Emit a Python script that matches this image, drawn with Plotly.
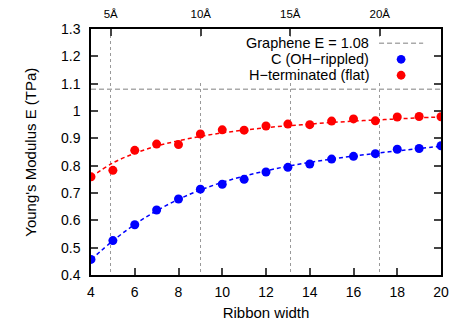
import plotly.graph_objects as go

# ribbon widths and measured Young's modulus (TPa)
ribbon_width = [4, 5, 6, 7, 8, 9, 10, 11, 12, 13, 14, 15, 16, 17, 18, 19, 20]
e_oh_rippled = [0.457, 0.526, 0.584, 0.638, 0.678, 0.714, 0.732, 0.750, 0.777,
                0.794, 0.806, 0.824, 0.834, 0.844, 0.860, 0.863, 0.873]
e_h_flat = [0.759, 0.783, 0.856, 0.879, 0.877, 0.916, 0.931, 0.930, 0.945,
            0.952, 0.950, 0.963, 0.971, 0.964, 0.978, 0.980, 0.979]

# fitted curves
fit_oh_rippled = [0.456, 0.525, 0.585, 0.635, 0.677, 0.711, 0.739, 0.762, 0.781,
                  0.798, 0.812, 0.824, 0.835, 0.845, 0.854, 0.863, 0.871]
fit_h_flat = [0.758, 0.810, 0.845, 0.872, 0.891, 0.907, 0.920, 0.930, 0.939,
              0.946, 0.952, 0.958, 0.963, 0.967, 0.971, 0.975, 0.978]

graphene_E = 1.08

# top axis: width in Angstrom
angstrom_pos = [4.9, 9.02, 13.11, 17.2]
angstrom_labels = ["5Å", "10Å", "15Å", "20Å"]

BLUE = "#0000ff"
RED = "#ff0000"
FONT = "Liberation Sans, Arial, sans-serif"

fig = go.Figure()

fig.add_trace(go.Scatter(x=ribbon_width, y=fit_oh_rippled, mode="lines", line_shape="spline",
                         line=dict(color=BLUE, width=1.5, dash="4px,3px"), showlegend=False))
fig.add_trace(go.Scatter(x=ribbon_width, y=fit_h_flat, mode="lines", line_shape="spline",
                         line=dict(color=RED, width=1.5, dash="4px,3px"), showlegend=False))
fig.add_trace(go.Scatter(x=ribbon_width, y=e_oh_rippled, mode="markers",
                         marker=dict(color=BLUE, size=9, line_width=0), showlegend=False))
fig.add_trace(go.Scatter(x=ribbon_width, y=e_h_flat, mode="markers",
                         marker=dict(color=RED, size=9, line_width=0), showlegend=False))
# invisible trace so the top axis exists
fig.add_trace(go.Scatter(x=[ribbon_width[0]], y=[graphene_E], xaxis="x2", mode="markers",
                         marker=dict(opacity=0), showlegend=False, hoverinfo="skip"))

fig.add_hline(y=graphene_E, line=dict(color="#aaaaaa", width=1.5, dash="5px,3px"))

# white key box hiding the grid behind the legend
fig.add_shape(type="rect", xref="x", yref="y", x0=6.7, x1=19.6, y0=1.105, y1=1.272,
              fillcolor="white", line_width=0, layer="above")

# key: right-aligned text with samples on the right (gnuplot style)
key_text = ["Graphene E = 1.08", "C (OH−rippled)", "H−terminated (flat)"]
key_y = [0.942, 0.877, 0.812]
for t, ky in zip(key_text, key_y):
    fig.add_annotation(text=t, xref="paper", yref="paper", x=0.797, y=ky,
                       xanchor="right", yanchor="middle", showarrow=False, borderpad=0,
                       font=dict(family=FONT, size=14.5, color="black"))
fig.add_shape(type="line", xref="paper", yref="paper", x0=0.823, x1=0.949, y0=key_y[0], y1=key_y[0],
              line=dict(color="#aaaaaa", width=1.5, dash="5px,3px"))
for ky, c in zip(key_y[1:], [BLUE, RED]):
    fig.add_shape(type="circle", xref="paper", yref="paper",
                  x0=0.886 - 0.0125, x1=0.886 + 0.0125, y0=ky - 0.0178, y1=ky + 0.0178,
                  fillcolor=c, line_width=0)

# y title as an annotation so it can sit closer to the tick labels
fig.add_annotation(text="Young's Modulus E (TPa)", xref="paper", yref="paper", x=-0.175, y=0.5,
                   xanchor="center", yanchor="middle", textangle=-90, showarrow=False,
                   font=dict(family=FONT, size=15, color="black"))

fig.update_layout(
    width=463, height=324,
    margin=dict(l=91, r=22, t=29, b=49),
    paper_bgcolor="white", plot_bgcolor="white",
    font=dict(family=FONT, size=14, color="black"),
    xaxis=dict(range=[4, 20], tickmode="linear", tick0=4, dtick=2, ticks="inside", ticklen=7,
               tickwidth=1.5, showline=True, linecolor="black", linewidth=1.5, mirror=True,
               showgrid=False, zeroline=False, ticklabelstandoff=3, automargin=False,
               title=dict(text="Ribbon width", standoff=9, font=dict(size=15))),
    xaxis2=dict(range=[4, 20], overlaying="x", side="top", tickvals=angstrom_pos,
                ticktext=angstrom_labels, ticks="inside", ticklen=7, tickwidth=1.5,
                showgrid=True, gridcolor="#999999", griddash="dot", gridwidth=1,
                zeroline=False, showline=False, tickfont=dict(size=11.5),
                ticklabelstandoff=8, automargin=False),
    yaxis=dict(range=[0.4, 1.3], tickmode="linear", tick0=0.4, dtick=0.1, ticks="inside",
               ticklen=7, tickwidth=1.5, showline=True, linecolor="black", linewidth=1.5,
               mirror="ticks", showgrid=False, zeroline=False, ticklabelstandoff=6,
               automargin=False),
)

# drop the default page margin so the figure sits at the window's top-left corner
fig.write_html("out.html", config={"displayModeBar": False},
               post_script="document.body.style.margin='0';")
